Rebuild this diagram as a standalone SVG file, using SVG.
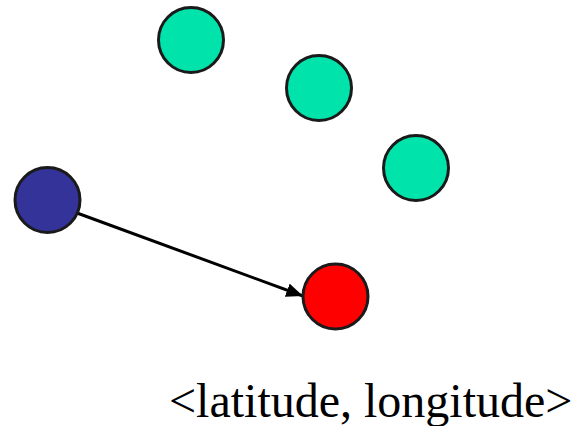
<svg xmlns="http://www.w3.org/2000/svg" width="576" height="426" viewBox="0 0 576 426">
<style>
.n{stroke:#1a1a1a;stroke-width:3}
.g{fill:#00E3AA}
.c{stroke:#000;stroke-width:3;fill:none}
.t{font-family:"Liberation Serif","Times New Roman",serif;font-size:48px;fill:#000}
</style>
<defs>
<marker id="ah" viewBox="0 0 12 10" refX="12" refY="5" markerWidth="5.6" markerHeight="4.8" orient="auto" markerUnits="strokeWidth">
<path d="M0,0 L12,5 L0,10 z" fill="#000"/>
</marker>
</defs>
<rect width="576" height="426" fill="#fff"/>
<g id="connectors">
<line class="c" x1="77" y1="213" x2="303" y2="296" marker-end="url(#ah)"/>
</g>
<g id="green1"><circle class="n g" cx="191" cy="40" r="32.5"/></g>
<g id="green2"><circle class="n g" cx="319" cy="88" r="32.5"/></g>
<g id="green3"><circle class="n g" cx="416" cy="168" r="32.5"/></g>
<g id="blue"><circle class="n" fill="#333399" cx="47.5" cy="200" r="32.5"/></g>
<g id="red"><circle class="n" fill="#FF0000" cx="335.5" cy="296.5" r="32.5"/></g>
<g id="label"><text class="t" x="169" y="417">&lt;latitude, longitude&gt;</text></g>
</svg>
